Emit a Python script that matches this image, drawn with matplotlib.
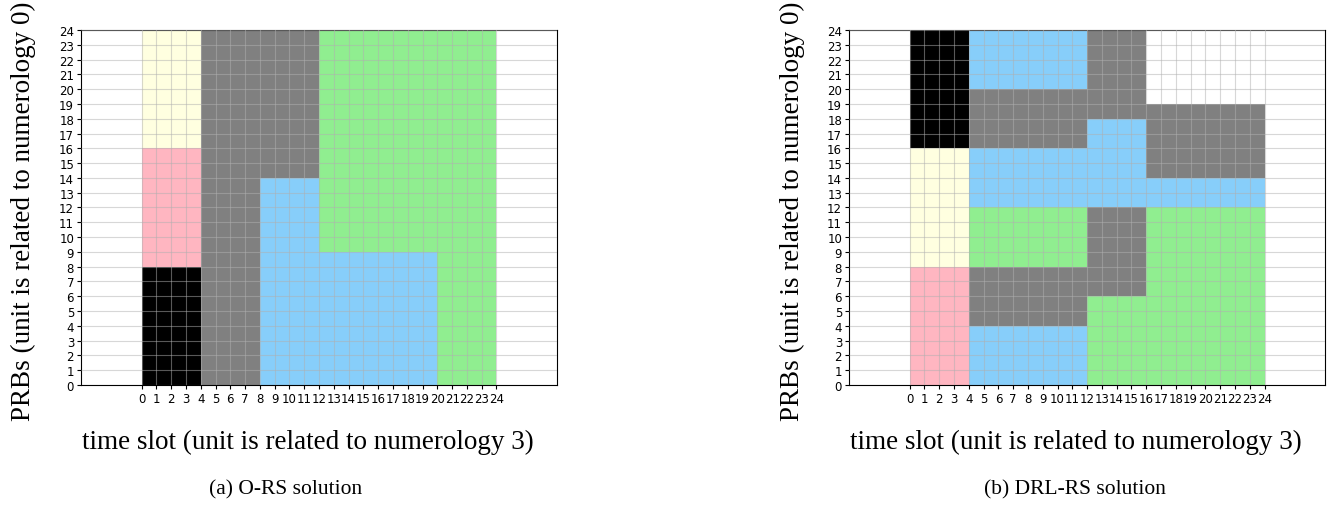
import matplotlib
matplotlib.use("Agg")
import matplotlib.pyplot as plt

# service id -> colour
palette = ["black", "lightpink", "lightyellow", "gray", "lightskyblue", "lightgreen"]

# (a) O-RS solution: blocks of time slots x PRBs
ors_x0 = [0, 0, 0, 4, 8, 8, 12, 12, 20]
ors_w = [4, 4, 4, 4, 4, 4, 8, 12, 4]
ors_y0 = [0, 8, 16, 0, 14, 0, 0, 9, 0]
ors_h = [8, 8, 8, 24, 10, 14, 9, 15, 9]
ors_srv = [0, 1, 2, 3, 3, 4, 4, 5, 5]

# (b) DRL-RS solution
drl_x0 = [0, 0, 0, 4, 4, 4, 4, 4, 4, 12, 12, 12, 12, 16, 16, 16]
drl_w = [4, 4, 4, 8, 8, 8, 8, 8, 8, 4, 4, 4, 4, 8, 8, 8]
drl_y0 = [0, 8, 16, 0, 4, 8, 12, 16, 20, 0, 6, 12, 18, 0, 12, 14]
drl_h = [8, 8, 8, 4, 4, 4, 4, 4, 4, 6, 6, 6, 6, 12, 2, 5]
drl_srv = [1, 2, 0, 4, 3, 5, 4, 3, 4, 5, 3, 4, 3, 5, 4, 3]

slots = list(range(25))
prbs = list(range(25))

serif = "Liberation Serif"

fig = plt.figure(figsize=(13.35, 5.06), dpi=100)
ax1 = fig.add_axes([0.0607, 0.2372, 0.3566, 0.7016])
ax2 = fig.add_axes([0.6360, 0.2372, 0.3566, 0.7016])


def draw(ax, x0, w, y0, h, srv, caption, cap_x):
    ax.bar(x0, h, width=w, bottom=y0, align="edge",
           color=[palette[s] for s in srv], linewidth=0)
    ax.set_xlim(-4.1, 28.1)
    ax.set_ylim(0, 24)
    ax.set_xticks(slots)
    ax.set_yticks(prbs)
    ax.tick_params(labelsize=8.5, length=3, pad=2)
    ax.set_axisbelow(False)
    ax.grid(True, color="#b0b0b0", alpha=0.5, linewidth=0.8)
    ax.set_xlabel("time slot (unit is related to numerology 3)",
                  family=serif, fontsize=19.5, va="center")
    ax.xaxis.set_label_coords(0.477, -0.158)
    ax.set_ylabel("PRBs (unit is related to numerology 0)",
                  family=serif, fontsize=19.5, va="center")
    ax.yaxis.set_label_coords(-0.12, 0.4915)
    ax.text(cap_x, -0.293, caption, transform=ax.transAxes, ha="center",
            va="center", family=serif, fontsize=15.5)


draw(ax1, ors_x0, ors_w, ors_y0, ors_h, ors_srv, "(a) O-RS solution", 0.4286)
draw(ax2, drl_x0, drl_w, drl_y0, drl_h, drl_srv, "(b) DRL-RS solution", 0.475)

fig.savefig("out.png", dpi=100)
